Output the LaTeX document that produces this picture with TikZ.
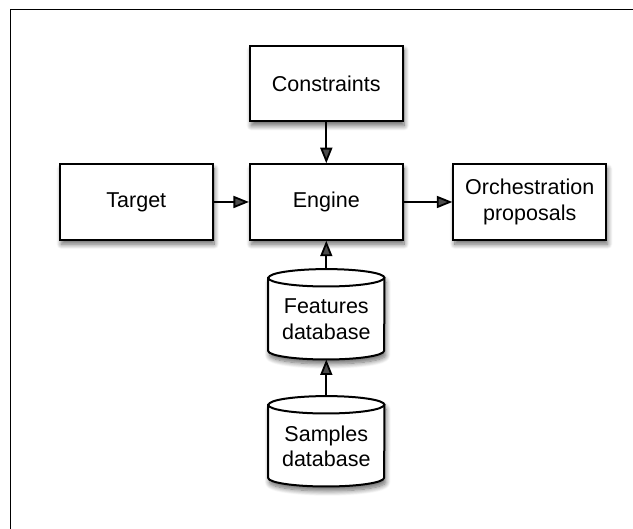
\documentclass[tikz,border=0pt]{standalone}
\usepackage{fontspec}
\setmainfont{Liberation Sans}
\usetikzlibrary{shadows.blur,arrows.meta}
\tikzset{
  txt/.style={font=\fontsize{21.5}{25.7}\selectfont, align=center},
  shd/.style={blur shadow={shadow xshift=1.5pt,shadow yshift=-4.5pt,shadow blur radius=5pt,shadow blur steps=10,shadow opacity=60}},
  box/.style={txt, draw, line width=2pt, fill=white, minimum width=152.7pt, minimum height=75.5pt, inner sep=0pt, shd},
  cylslot/.style={inner sep=0pt, minimum width=116pt, minimum height=90pt},
  cyllabel/.style={txt, inner sep=0pt},
  cylline/.style={line width=2pt},
  arr/.style={line width=1.8pt, -{Triangle[length=15.5pt,width=12pt]}},
  frameline/.style={line width=1.5pt}
}
\newcommand{\mycyl}[1]{%
  \path[draw, fill=white, cylline, shd]
    ([yshift=-8.7pt]#1.north west) -- ([yshift=8.7pt]#1.south west)
    arc[start angle=180,end angle=360,x radius=58pt,y radius=8.7pt]
    -- ([yshift=-8.7pt]#1.north east)
    arc[start angle=0,end angle=180,x radius=58pt,y radius=8.7pt] -- cycle;
  \draw[cylline] ([yshift=-8.7pt]#1.north west)
    arc[start angle=180,end angle=360,x radius=58pt,y radius=8.7pt];
}
\begin{document}
\begin{tikzpicture}[x=1pt,y=1pt]
\useasboundingbox (0,0) rectangle (633,529);
\coordinate (fb) at (10.5,0);
\coordinate (fc) at (10.5,519.5);
\coordinate (fr) at (633,519.5);
\draw[frameline] (fb) -- (fc) -- (fr);

\node[box] (cons) at (326.3,445.5) {Constraints};
\node[box] (eng) at (326.3,327) {Engine};
\node[box] (tgt) at (136.3,327) {Target};
\node[box] (orch) at (529.7,327) {Orchestration\\proposals};

\node[cylslot] (feat) at (326.3,214.7) {};
\mycyl{feat}
\node[cyllabel] (feattext) at ([yshift=-5pt]feat.center) {Features\\database};

\node[cylslot] (samp) at (326.3,87.7) {};
\mycyl{samp}
\node[cyllabel] (samptext) at ([yshift=-5pt]samp.center) {Samples\\database};

\draw[arr] (cons) -- (eng);
\draw[arr] (tgt) -- (eng);
\draw[arr] (eng) -- (orch);
\draw[arr] (feat) -- (eng);
\draw[arr] (samp) -- (feat);
\end{tikzpicture}
\end{document}
